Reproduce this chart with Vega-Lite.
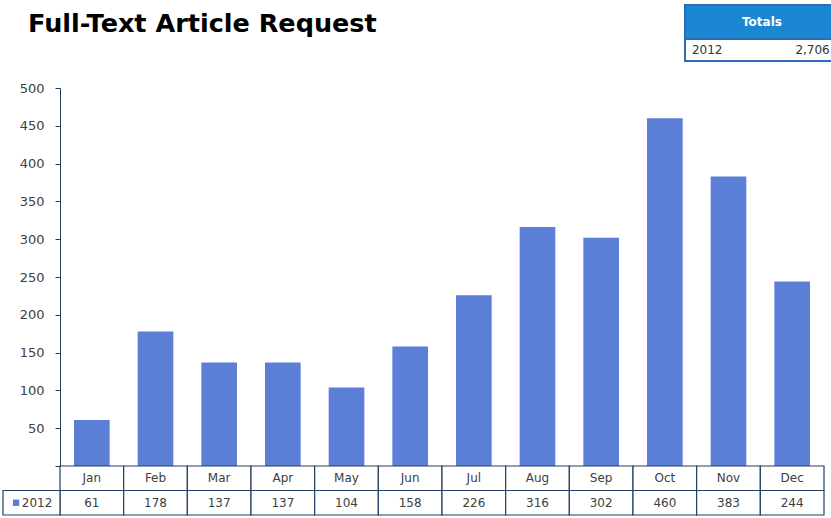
{
  "$schema": "https://vega.github.io/schema/vega-lite/v6.json",
  "width": 764,
  "height": 378,
  "autosize": "none",
  "padding": {"left": 60, "top": 88, "right": 7, "bottom": 52},
  "background": "white",
  "config": {"view": {"stroke": null}},
  "title": {"text": "Full-Text Article Request", "anchor": "start", "frame": "group", "dx": -32, "dy": 37, "offset": 4, "font": "DejaVu Sans", "fontSize": 25.5, "fontWeight": "bold", "color": "#000000"},
  "datasets": {
    "monthly": [
      {"month": "Jan", "count": 61},
      {"month": "Feb", "count": 178},
      {"month": "Mar", "count": 137},
      {"month": "Apr", "count": 137},
      {"month": "May", "count": 104},
      {"month": "Jun", "count": 158},
      {"month": "Jul", "count": 226},
      {"month": "Aug", "count": 316},
      {"month": "Sep", "count": 302},
      {"month": "Oct", "count": 460},
      {"month": "Nov", "count": 383},
      {"month": "Dec", "count": 244}
    ],
    "totals": [{"year": "2012", "total": 2706}],
    "header": [{"header": "Totals"}]
  },
  "resolve": {"scale": {"x": "independent", "y": "independent"}},
  "layer": [
    {
      "data": {"name": "monthly"},
      "mark": {"type": "bar", "color": "#5b7fd6"},
      "encoding": {
        "x": {"field": "month", "type": "nominal", "sort": null, "scale": {"domain": ["Jan","Feb","Mar","Apr","May","Jun","Jul","Aug","Sep","Oct","Nov","Dec"], "paddingInner": 0.44, "paddingOuter": 0.22}, "axis": null},
        "y": {"field": "count", "type": "quantitative", "scale": {"domain": [0, 500], "nice": false},
          "axis": {"values": [0,50,100,150,200,250,300,350,400,450,500], "labelExpr": "datum.value == 0 ? '' : datum.label", "grid": false, "title": null, "domainColor": "#243f60", "tickColor": "#243f60", "tickSize": 5, "labelFont": "DejaVu Sans", "labelFontSize": 13, "labelColor": "#404040", "labelPadding": 11}}
      }
    },
    {
      "data": {"name": "monthly"},
      "transform": [{"fold": ["month", "count"], "as": ["row", "cell"]}],
      "encoding": {
        "x": {"field": "month", "type": "nominal", "sort": null, "scale": {"type": "band", "domain": ["Jan","Feb","Mar","Apr","May","Jun","Jul","Aug","Sep","Oct","Nov","Dec"], "paddingInner": 0, "paddingOuter": 0}, "axis": null},
        "y": {"field": "row", "type": "nominal", "scale": {"type": "band", "domain": ["month", "count"], "range": [378, 427], "paddingInner": 0, "paddingOuter": 0}, "axis": null}
      },
      "layer": [
        {"mark": {"type": "rect", "fill": "white", "stroke": "#243f60", "strokeWidth": 1.2}},
        {"mark": {"type": "text", "font": "DejaVu Sans", "fontSize": 12, "color": "#404040"}, "encoding": {"text": {"field": "cell", "type": "nominal"}}}
      ]
    },
    {
      "data": {"name": "totals"},
      "encoding": {
        "x": {"field": "year", "type": "nominal", "scale": {"type": "band", "range": [-57, 0], "paddingInner": 0, "paddingOuter": 0}, "axis": null},
        "y": {"field": "year", "type": "nominal", "scale": {"type": "band", "range": [402.5, 427], "paddingInner": 0, "paddingOuter": 0}, "axis": null}
      },
      "layer": [
        {"mark": {"type": "rect", "fill": "white", "stroke": "#243f60", "strokeWidth": 1.2}},
        {"mark": {"type": "point", "shape": "square", "filled": true, "size": 40, "color": "#5b7fd6", "opacity": 1},
          "encoding": {"x": {"field": "year", "type": "nominal", "bandPosition": 0.23, "scale": {"type": "band", "range": [-57, 0], "paddingInner": 0, "paddingOuter": 0}, "axis": null}}},
        {"mark": {"type": "text", "font": "DejaVu Sans", "fontSize": 12, "color": "#404040", "align": "left"},
          "encoding": {"x": {"field": "year", "type": "nominal", "bandPosition": 0.33, "scale": {"type": "band", "range": [-57, 0], "paddingInner": 0, "paddingOuter": 0}, "axis": null}, "text": {"field": "year", "type": "nominal"}}}
      ]
    },
    {
      "data": {"name": "header"},
      "encoding": {
        "x": {"field": "header", "type": "nominal", "scale": {"type": "band", "range": [625, 779], "paddingInner": 0, "paddingOuter": 0}, "axis": null},
        "y": {"field": "header", "type": "nominal", "scale": {"type": "band", "range": [-83, -49], "paddingInner": 0, "paddingOuter": 0}, "axis": null}
      },
      "layer": [
        {"mark": {"type": "rect", "fill": "#1b87d3", "stroke": "#2a6db5", "strokeWidth": 2}},
        {"mark": {"type": "text", "font": "DejaVu Sans", "fontSize": 12, "fontWeight": "bold", "color": "white"}, "encoding": {"text": {"field": "header", "type": "nominal"}}}
      ]
    },
    {
      "data": {"name": "totals"},
      "encoding": {
        "x": {"field": "year", "type": "nominal", "scale": {"type": "band", "range": [625, 779], "paddingInner": 0, "paddingOuter": 0}, "axis": null},
        "y": {"field": "year", "type": "nominal", "scale": {"type": "band", "range": [-49, -27], "paddingInner": 0, "paddingOuter": 0}, "axis": null}
      },
      "layer": [
        {"mark": {"type": "rect", "fill": "white", "stroke": "#2a6db5", "strokeWidth": 2}},
        {"mark": {"type": "text", "font": "DejaVu Sans", "fontSize": 12, "color": "#333333", "align": "left"},
          "encoding": {"x": {"field": "year", "type": "nominal", "bandPosition": 0.045, "scale": {"type": "band", "range": [625, 779], "paddingInner": 0, "paddingOuter": 0}, "axis": null}, "text": {"field": "year", "type": "nominal"}}},
        {"mark": {"type": "text", "font": "DejaVu Sans", "fontSize": 12, "color": "#333333", "align": "right"},
          "encoding": {"x": {"field": "year", "type": "nominal", "bandPosition": 0.94, "scale": {"type": "band", "range": [625, 779], "paddingInner": 0, "paddingOuter": 0}, "axis": null}, "text": {"field": "total", "type": "quantitative", "format": ","}}}
      ]
    }
  ]
}
